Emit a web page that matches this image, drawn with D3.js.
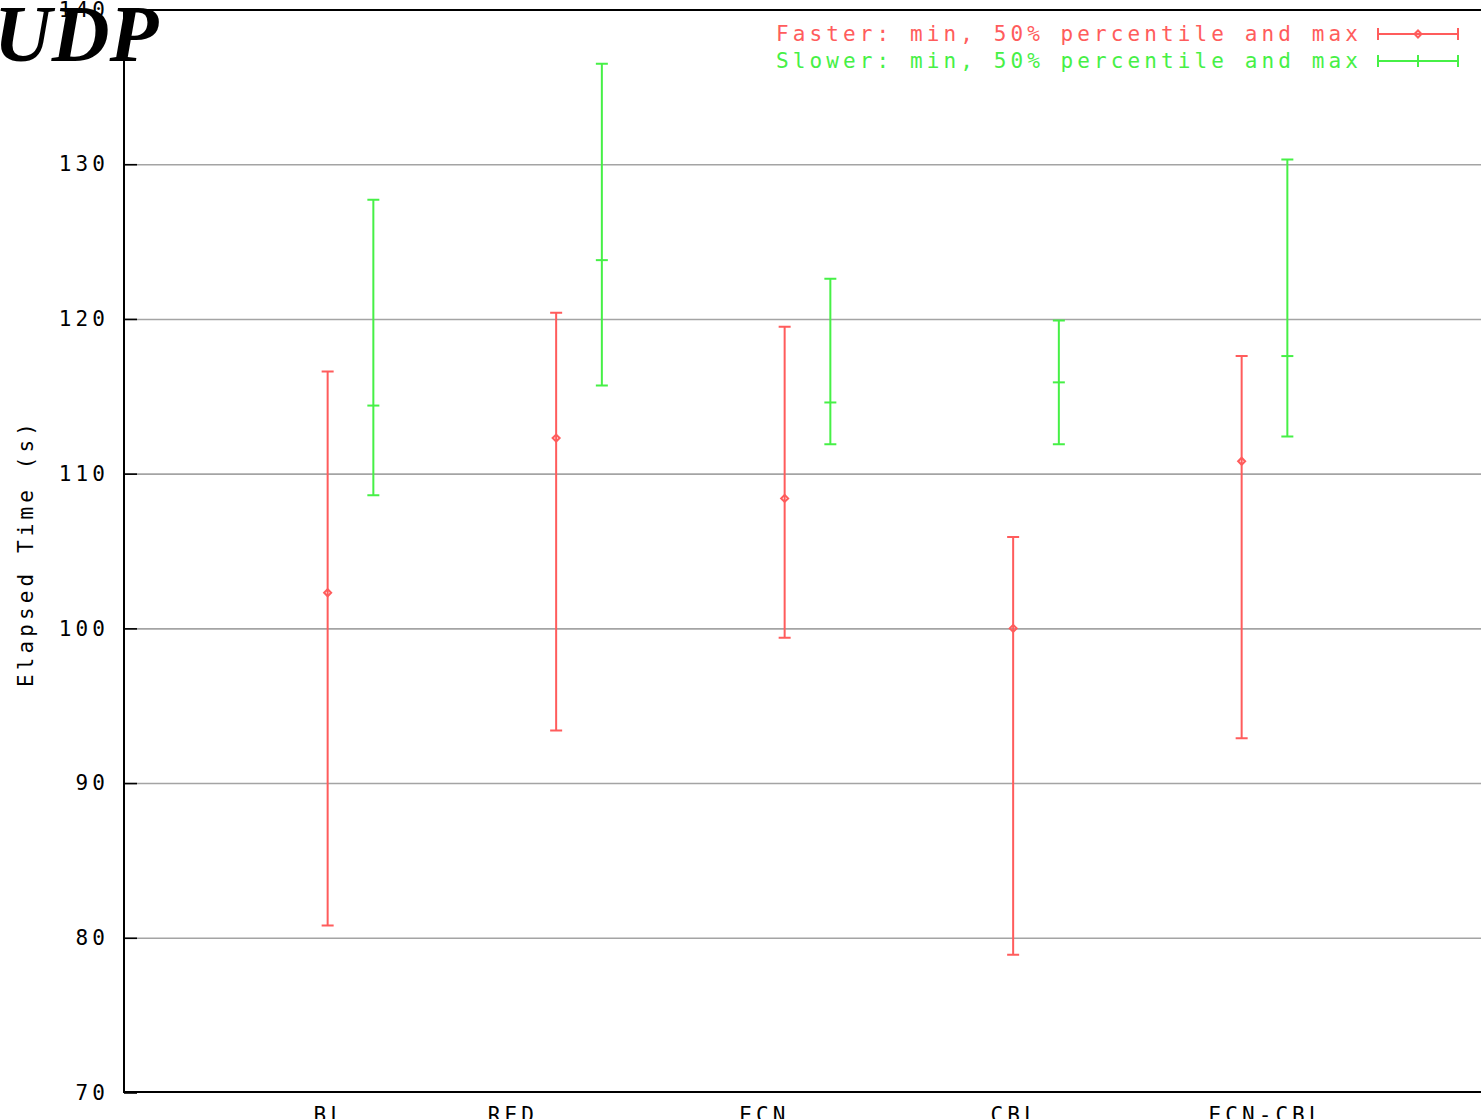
<!DOCTYPE html>
<html>
<head>
<meta charset="utf-8">
<script src="https://cdn.jsdelivr.net/npm/d3@7/dist/d3.min.js"></script>
<style>
  html, body { margin: 0; padding: 0; background: #fff; overflow: hidden; }
  svg { display: block; }
  .mono { font-family: "DejaVu Sans Mono", "Liberation Mono", monospace; font-size: 21px; letter-spacing: 4.1px; }
</style>
</head>
<body>
<svg id="chart" width="1481" height="1119"></svg>
<script>
// Queueing disciplines compared
const categories = ["BL", "RED", "ECN", "CBL", "ECN-CBL"];
// positions of the category labels along the x axis
const xTickPos = [0.9, 1.7, 2.8, 3.9, 5.0];

// Faster runs: min, median and max elapsed time (s)
const fasterMin    = [80.8, 93.4, 99.4, 78.9, 92.9];
const fasterMedian = [102.3, 112.3, 108.4, 100.0, 110.8];
const fasterMax    = [116.6, 120.4, 119.5, 105.9, 117.6];

// Slower runs: min, median and max elapsed time (s)
const slowerMin    = [108.6, 115.7, 111.9, 111.9, 112.4];
const slowerMedian = [114.4, 123.8, 114.6, 115.9, 117.6];
const slowerMax    = [127.7, 136.5, 122.6, 119.9, 130.3];

const yTicks = [70, 80, 90, 100, 110, 120, 130, 140];
const legendLabels = ["Faster: min, 50% percentile and max", "Slower: min, 50% percentile and max"];

const RED = "#ff5c5c";
const GREEN = "#46f046";

const svg = d3.select("#chart");
const plotLeft = 124, plotTop = 10, plotBottom = 1092, plotRight = 1481;

const x = d3.scaleLinear().domain([0, 6]).range([122, 1493]);
const y = d3.scaleLinear().domain([70, 140]).range([1092.5, 9.5]);

// horizontal grid
const grid = svg.append("g").attr("transform", `translate(${plotLeft},0)`)
  .call(d3.axisLeft(y).tickValues(yTicks.slice(1, -1)).tickSize(-(plotRight - plotLeft)).tickFormat(""));
grid.select(".domain").remove();
grid.selectAll("line").attr("stroke", "#a4a4a4").attr("stroke-width", 1.6);

// y axis ticks and labels
const yAxis = svg.append("g").attr("transform", `translate(${plotLeft},0)`)
  .call(d3.axisLeft(y).tickValues(yTicks).tickSize(-13).tickPadding(0).tickFormat(d3.format("d")));
yAxis.select(".domain").remove();
yAxis.attr("font-size", null).attr("font-family", null);
yAxis.selectAll("line").attr("stroke", "#000").attr("stroke-width", 1.6);
yAxis.selectAll("text").attr("class", "mono").attr("x", -15).attr("fill", "#000");

// x axis labels
const xAxis = svg.append("g").attr("transform", `translate(0,${plotBottom})`)
  .call(d3.axisBottom(x).tickValues(xTickPos).tickSize(0).tickPadding(0)
    .tickFormat((d, i) => categories[i]));
xAxis.select(".domain").remove();
xAxis.attr("font-size", null).attr("font-family", null);
xAxis.selectAll("text").attr("class", "mono").attr("dy", null).attr("y", 30).attr("fill", "#000")
  .attr("dx", "2px");

// frame
svg.append("path")
  .attr("d", `M${plotRight + 5},${plotTop}H${plotLeft}V${plotBottom}H${plotRight + 5}`)
  .attr("fill", "none").attr("stroke", "#000").attr("stroke-width", 2);

// y axis title
svg.append("text").attr("class", "mono")
  .attr("transform", "translate(26,553) rotate(-90)")
  .attr("text-anchor", "middle").attr("dominant-baseline", "central")
  .text("Elapsed Time (s)");

// error bars
function drawSeries(mins, meds, maxs, offset, color, medianShape) {
  const g = svg.append("g").attr("stroke", color).attr("stroke-width", 2).attr("fill", "none");
  categories.forEach((c, i) => {
    const cx = x(i + 1 + offset);
    const y0 = y(mins[i]), y1 = y(maxs[i]), ym = y(meds[i]);
    g.append("path").attr("d", `M${cx},${y0}V${y1}M${cx - 6},${y0}H${cx + 6}M${cx - 6},${y1}H${cx + 6}`);
    if (medianShape === "diamond") {
      g.append("path").attr("d", `M${cx - 3.5},${ym}L${cx},${ym - 3.5}L${cx + 3.5},${ym}L${cx},${ym + 3.5}Z`);
    } else {
      g.append("path").attr("d", `M${cx - 6},${ym}H${cx + 6}`);
    }
  });
}
drawSeries(fasterMin, fasterMedian, fasterMax, -0.1, RED, "diamond");
drawSeries(slowerMin, slowerMedian, slowerMax, 0.1, GREEN, "tick");

// legend
const legend = svg.append("g");
[[RED, "diamond"], [GREEN, "tick"]].forEach(([color, shape], i) => {
  const ly = 34 + i * 27;
  legend.append("text").attr("class", "mono").attr("x", 1362).attr("y", ly)
    .attr("text-anchor", "end").attr("dominant-baseline", "central").attr("fill", color)
    .text(legendLabels[i]);
  const x0 = 1378, x1 = 1458, xm = 1418;
  legend.append("path").attr("stroke", color).attr("stroke-width", 2).attr("fill", "none")
    .attr("d", `M${x0},${ly}H${x1}M${x0},${ly - 6}V${ly + 6}M${x1},${ly - 6}V${ly + 6}` +
      (shape === "diamond"
        ? `M${xm - 3.5},${ly}L${xm},${ly - 3.5}L${xm + 3.5},${ly}L${xm},${ly + 3.5}Z`
        : `M${xm},${ly - 6}V${ly + 6}`));
});

// chart title
svg.append("text")
  .attr("x", -6).attr("y", 61)
  .attr("font-family", "'Liberation Serif', 'Times New Roman', serif")
  .attr("font-style", "italic").attr("font-weight", "bold").attr("font-size", 80)
  .attr("fill", "#000")
  .text("UDP");
</script>
</body>
</html>
